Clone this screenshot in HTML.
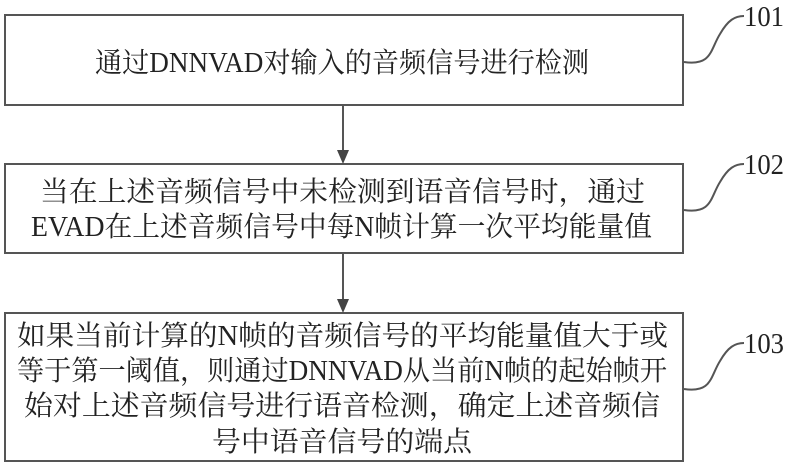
<!DOCTYPE html>
<html><head><meta charset="utf-8"><style>
html,body{margin:0;padding:0;background:#fff;width:787px;height:464px;overflow:hidden}
svg text{font-family:"Liberation Serif","Noto Serif CJK SC",serif;font-size:28px;fill:#222}
</style></head><body>
<svg width="787" height="464" viewBox="0 0 787 464" xmlns="http://www.w3.org/2000/svg">
<g fill="none" stroke="#555" stroke-width="2">
<rect x="5" y="15" width="678" height="90"/>
<rect x="5" y="164" width="678" height="89"/>
<rect x="5" y="313" width="678" height="148"/>
<line x1="343" y1="105" x2="343" y2="152"/>
<line x1="343" y1="253" x2="343" y2="301"/>
<path d="M684,62 C712,66 710,50 720,34 C728,20 735,16 744,16"/>
<path d="M684,210 C712,214 710,198 720,182 C728,168 735,164 744,164"/>
<path d="M684,389 C712,393 710,377 720,361 C728,347 735,343 744,343"/>
</g>
<polygon points="337,150 349,150 343,164" fill="#444"/>
<polygon points="337,299 349,299 343,313" fill="#444"/>
<text x="744" y="26" textLength="40" lengthAdjust="spacingAndGlyphs">101</text>
<text x="744" y="174" textLength="40" lengthAdjust="spacingAndGlyphs">102</text>
<text x="744" y="353" textLength="40" lengthAdjust="spacingAndGlyphs">103</text>
<text x="95" y="72" textLength="494" lengthAdjust="spacingAndGlyphs">通过DNNVAD对输入的音频信号进行检测</text>
<text x="40" y="201" textLength="605" lengthAdjust="spacingAndGlyphs">当在上述音频信号中未检测到语音信号时，通过</text>
<text x="31" y="236" textLength="621" lengthAdjust="spacingAndGlyphs">EVAD在上述音频信号中每N帧计算一次平均能量值</text>
<text x="17" y="345" textLength="651" lengthAdjust="spacingAndGlyphs">如果当前计算的N帧的音频信号的平均能量值大于或</text>
<text x="17" y="380" textLength="650" lengthAdjust="spacingAndGlyphs">等于第一阈值，则通过DNNVAD从当前N帧的起始帧开</text>
<text x="24" y="415" textLength="636" lengthAdjust="spacingAndGlyphs">始对上述音频信号进行语音检测，确定上述音频信</text>
<text x="212" y="451" textLength="260" lengthAdjust="spacingAndGlyphs">号中语音信号的端点</text>
</svg>
</body></html>
